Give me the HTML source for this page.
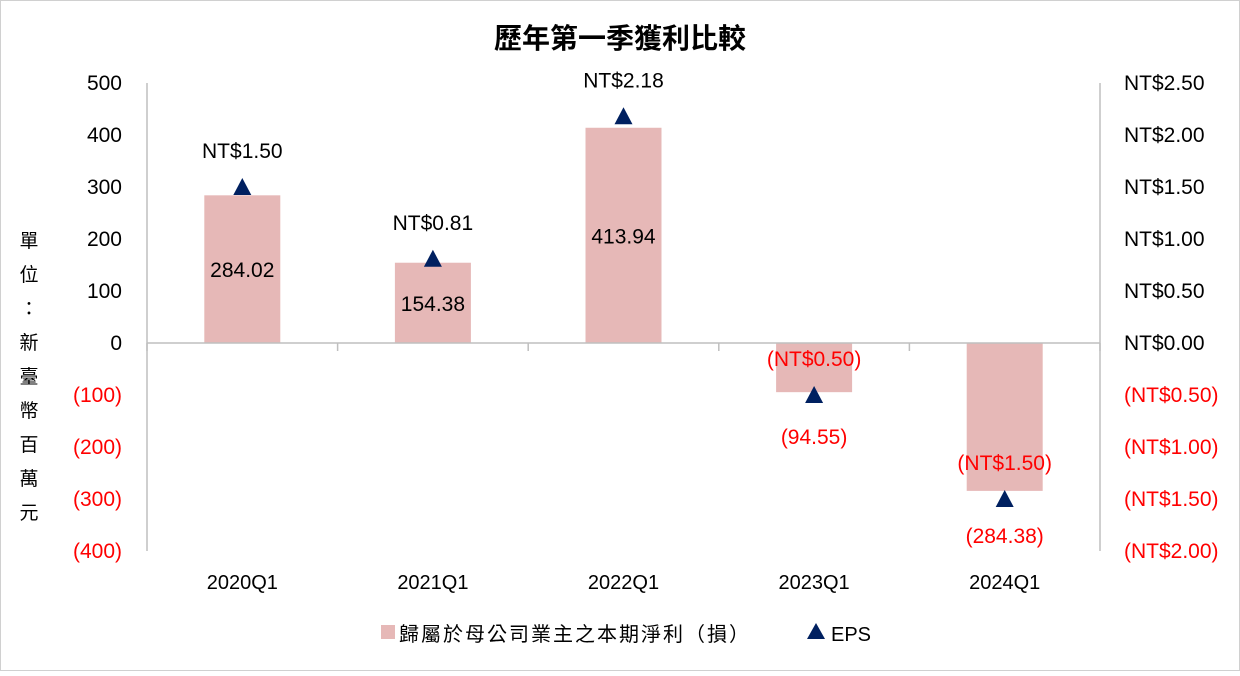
<!DOCTYPE html>
<html><head><meta charset="utf-8"><style>
body{margin:0;background:#fff;}
svg text{font-family:"Liberation Sans","Noto Sans CJK TC",sans-serif;}
</style></head><body>
<svg id="chart" width="1240" height="671" xmlns="http://www.w3.org/2000/svg">
<rect x="0.5" y="0.5" width="1239" height="670" fill="#fff" stroke="#d0d0d0"/>
<text x="620" y="48" text-anchor="middle" font-size="28" font-weight="bold" fill="#000">歷年第一季獲利比較</text>
<g id="yunit"></g>
<g id="plot"></g>
<g>
<rect x="381" y="625" width="14" height="14" fill="#e6b8b7"/>
<text x="399" y="641" font-size="20" letter-spacing="2" fill="#000">歸屬於母公司業主之本期淨利（損）</text>
<polygon points="816,623 807,639 825,639" fill="#002060"/>
<text x="831" y="641" font-size="20" fill="#000">EPS</text>
</g>
</svg>
<script>
const categories=["2020Q1","2021Q1","2022Q1","2023Q1","2024Q1"];
const profit=[284.02,154.38,413.94,-94.55,-284.38];
const eps=[1.50,0.81,2.18,-0.50,-1.50];
const leftTicks=[500,400,300,200,100,0,-100,-200,-300,-400];
const rightTicks=[2.5,2.0,1.5,1.0,0.5,0,-0.5,-1.0,-1.5,-2.0];
const NS="http://www.w3.org/2000/svg";
const X0=147,X1=1100,band=(X1-X0)/categories.length;
const yL=v=>343-v*0.52;
const yR=v=>343-v*104;
const xC=i=>X0+band*(i+0.5);
const plot=document.getElementById('plot');
function mk(tag,attrs,text){const e=document.createElementNS(NS,tag);for(const k in attrs)e.setAttribute(k,attrs[k]);if(text!==undefined)e.textContent=text;plot.appendChild(e);return e;}
const fmtN=v=>v<0?"("+Math.abs(v).toFixed(2)+")":v.toFixed(2);
const fmtE=v=>v<0?"(NT$"+Math.abs(v).toFixed(2)+")":"NT$"+v.toFixed(2);
const fmtT=v=>v<0?"("+Math.abs(v)+")":String(v);
let e=mk('line',{x1:X0,y1:83,x2:X0,y2:551,stroke:'#bfbfbf','stroke-width':1.5});

e=mk('line',{x1:X1,y1:83,x2:X1,y2:551,stroke:'#bfbfbf','stroke-width':1.5});

leftTicks.forEach(t=>{const el=mk('text',{x:122,y:yL(t)+7,'text-anchor':'end','font-size':21,fill:t<0?'#ff0000':'#000'},fmtT(t));
});
rightTicks.forEach(t=>{const el=mk('text',{x:1124,y:yR(t)+7,'font-size':21,fill:t<0?'#ff0000':'#000'},fmtE(t));
});
categories.forEach((c,i)=>{
 const x=xC(i),v=profit[i],y=yL(v),bw=76;
 const b=mk('rect',{x:x-bw/2,y:Math.min(y,yL(0)),width:bw,height:Math.abs(y-yL(0)),fill:'#e6b8b7'});
 
 const cl=mk('text',{x:x,y:589,'text-anchor':'middle','font-size':20,fill:'#000'},c);
 
 const ly=v>=0?(yL(v)+yL(0))/2+8:y+52;
 const vl=mk('text',{x:x,y:ly,'text-anchor':'middle','font-size':21,fill:v<0?'#ff0000':'#000'},fmtN(v));
 
});
e=mk('line',{x1:X0,y1:343,x2:X1,y2:343,stroke:'#bfbfbf','stroke-width':1.5});

for(let i=0;i<=categories.length;i++){const t=mk('line',{x1:X0+band*i,y1:343,x2:X0+band*i,y2:351,stroke:'#bfbfbf','stroke-width':1.5});
}
eps.forEach((v,i)=>{
 const x=xC(i),y=yR(v);
 const p=mk('polygon',{points:`${x},${y-9} ${x-9},${y+8} ${x+9},${y+8}`,fill:'#002060'});
 
 const l=mk('text',{x:x,y:y-29,'text-anchor':'middle','font-size':21,fill:v<0?'#ff0000':'#000'},fmtE(v));
 
});
const unit="單位：新臺幣百萬元".split("");
const yu=document.getElementById('yunit');
unit.forEach((ch,i)=>{const t=document.createElementNS(NS,'text');t.setAttribute('x',29);t.setAttribute('y',247+i*34);t.setAttribute('text-anchor','middle');t.setAttribute('font-size',19);t.textContent=ch;


yu.appendChild(t);});
</script>
</body></html>
